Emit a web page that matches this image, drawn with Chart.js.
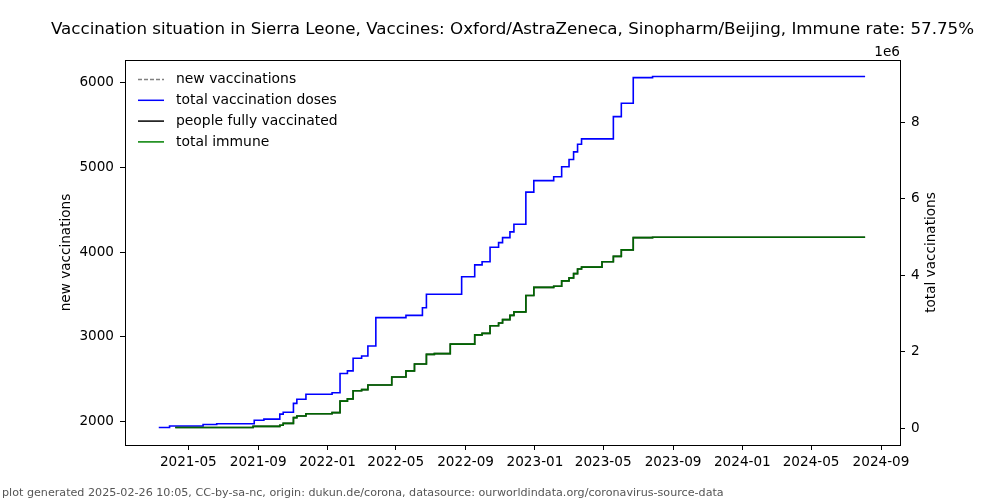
<!DOCTYPE html>
<html><head><meta charset="utf-8">
<script src="https://cdn.jsdelivr.net/npm/chart.js@4.4.1/dist/chart.umd.min.js"></script>
<style>html,body{margin:0;padding:0;background:#fff;}#wrap{width:1000px;height:500px;}</style>
</head><body><div id="wrap"><canvas id="c" width="1000" height="500"></canvas></div>
<script>
// ---- data ----
const chartTitle = 'Vaccination situation in Sierra Leone, Vaccines: Oxford/AstraZeneca, Sinopharm/Beijing, Immune rate: 57.75%';
const footerText = 'plot generated 2025-02-26 10:05, CC-by-sa-nc, origin: dukun.de/corona, datasource: ourworldindata.org/coronavirus-source-data';
const seriesLabels = ['new vaccinations', 'total vaccination doses', 'people fully vaccinated', 'total immune'];
const leftAxisTitle = 'new vaccinations';
const rightAxisTitle = 'total vaccinations';
const rightAxisOffsetLabel = '1e6';

const xTickLabels = ['2021-05','2021-09','2022-01','2022-05','2022-09','2023-01','2023-05','2023-09','2024-01','2024-05','2024-09'];
const leftTicks = [2000, 3000, 4000, 5000, 6000];
const rightTicks = [0, 2000000, 4000000, 6000000, 8000000];

const newVaccinationDates = [];
const newVaccinationValues = [];

const totalDosesDates = ['2021-03-10','2021-03-29','2021-05-27','2021-06-20','2021-08-25','2021-09-11','2021-10-09','2021-10-15','2021-11-02','2021-11-08','2021-11-24','2022-01-09','2022-01-23','2022-02-05','2022-02-15','2022-03-02','2022-03-13','2022-03-27','2022-05-19','2022-06-17','2022-06-24','2022-08-25','2022-09-17','2022-09-30','2022-10-14','2022-10-29','2022-11-05','2022-11-18','2022-11-25','2022-12-16','2022-12-30','2023-02-03','2023-02-17','2023-03-02','2023-03-10','2023-03-17','2023-03-24','2023-05-19','2023-06-02','2023-06-23','2023-07-27','2024-08-04'];
const totalDosesValues = [20000,60000,100000,120000,210000,240000,370000,420000,650000,760000,890000,930000,1430000,1500000,1830000,1890000,2150000,2890000,2950000,3150000,3500000,3960000,4270000,4350000,4730000,4850000,4980000,5130000,5330000,6170000,6470000,6570000,6830000,7020000,7220000,7420000,7560000,8140000,8490000,9160000,9190000,9190000];

const fullyVaccinatedDates = ['2021-04-08','2021-08-23','2021-10-09','2021-10-15','2021-11-02','2021-11-08','2021-11-24','2022-01-09','2022-01-23','2022-02-05','2022-02-15','2022-03-02','2022-03-13','2022-04-24','2022-05-19','2022-06-03','2022-06-24','2022-07-08','2022-08-05','2022-09-17','2022-09-30','2022-10-14','2022-10-29','2022-11-05','2022-11-18','2022-11-25','2022-12-16','2022-12-30','2023-02-03','2023-02-17','2023-03-02','2023-03-10','2023-03-17','2023-03-24','2023-04-29','2023-05-19','2023-06-02','2023-06-23','2023-07-27','2024-08-04'];
const fullyVaccinatedValues = [20000,50000,80000,130000,280000,320000,380000,410000,710000,770000,980000,1010000,1130000,1340000,1500000,1680000,1930000,1950000,2200000,2440000,2480000,2680000,2750000,2840000,2950000,3040000,3470000,3680000,3710000,3850000,3930000,4040000,4160000,4210000,4350000,4490000,4660000,4980000,4990000,4990000];

const totalImmuneDates = ['2021-04-08','2021-08-23','2021-10-09','2021-10-15','2021-11-02','2021-11-08','2021-11-24','2022-01-09','2022-01-23','2022-02-05','2022-02-15','2022-03-02','2022-03-13','2022-04-24','2022-05-19','2022-06-03','2022-06-24','2022-07-08','2022-08-05','2022-09-17','2022-09-30','2022-10-14','2022-10-29','2022-11-05','2022-11-18','2022-11-25','2022-12-16','2022-12-30','2023-02-03','2023-02-17','2023-03-02','2023-03-10','2023-03-17','2023-03-24','2023-04-29','2023-05-19','2023-06-02','2023-06-23','2023-07-27','2024-08-04'];
const totalImmuneValues = [20000,50000,80000,130000,280000,320000,380000,410000,710000,770000,980000,1010000,1130000,1340000,1500000,1680000,1930000,1950000,2200000,2440000,2480000,2680000,2750000,2840000,2950000,3040000,3470000,3680000,3710000,3850000,3930000,4040000,4160000,4210000,4350000,4490000,4660000,4980000,4990000,4990000];

// ---- helpers ----
const FONT = "'DejaVu Sans', sans-serif";
const toTime = s => Date.parse(s.length === 7 ? s + '-01T00:00:00Z' : s + 'T00:00:00Z');
const pts = (d, v) => d.map((s, i) => ({x: toTime(s), y: v[i]}));
const fmtMonth = t => { const d = new Date(t); return d.getUTCFullYear() + '-' + String(d.getUTCMonth() + 1).padStart(2, '0'); };

Chart.defaults.color = '#000';
Chart.defaults.font.family = FONT;
Chart.defaults.font.size = 13.6;

const textPlugin = {
  id: 'textPlugin',
  afterDraw(chart) {
    const ctx = chart.ctx, a = chart.chartArea;
    ctx.save();
    // top spine
    ctx.strokeStyle = '#000'; ctx.lineWidth = 1;
    ctx.beginPath(); ctx.moveTo(Math.round(a.left) + 0.5, Math.round(a.top) + 0.5); ctx.lineTo(Math.round(a.right) + 0.5, Math.round(a.top) + 0.5); ctx.stroke();
    // title
    ctx.fillStyle = '#000';
    ctx.font = "16.7px " + FONT; ctx.textAlign = 'center'; ctx.textBaseline = 'middle';
    ctx.fillText(chartTitle, (a.left + a.right) / 2, 30);
    // axis titles
    ctx.font = "13.6px " + FONT;
    ctx.save(); ctx.translate(66, (a.top + a.bottom) / 2); ctx.rotate(-Math.PI / 2); ctx.fillText(leftAxisTitle, 0, 0); ctx.restore();
    ctx.save(); ctx.translate(931, (a.top + a.bottom) / 2); ctx.rotate(-Math.PI / 2); ctx.fillText(rightAxisTitle, 0, 0); ctx.restore();
    // offset label
    ctx.textAlign = 'right'; ctx.textBaseline = 'alphabetic';
    ctx.fillText(rightAxisOffsetLabel, a.right, 56);
    // legend
    const ds = chart.data.datasets;
    ctx.font = "13.9px " + FONT;
    ctx.textAlign = 'left'; ctx.textBaseline = 'middle';
    ds.forEach((d, i) => {
      const y = 79.5 + i * 20.8;
      ctx.save();
      ctx.strokeStyle = d.legendColor || d.borderColor; ctx.lineWidth = 1.5;
      ctx.setLineDash(d.borderDash || []);
      ctx.beginPath(); ctx.moveTo(138, y); ctx.lineTo(164, y); ctx.stroke();
      ctx.restore();
      ctx.fillStyle = '#000';
      ctx.fillText(d.label, 176, y);
    });
    // footer
    ctx.font = "11.15px " + FONT; ctx.fillStyle = '#555'; ctx.textAlign = 'left'; ctx.textBaseline = 'middle';
    ctx.fillText(footerText, 2, 493.5);
    ctx.restore();
  }
};

const axisCommon = {
  grid: { drawOnChartArea: false, drawTicks: true, tickLength: 5, tickColor: '#000', tickWidth: 1 },
  border: { display: true, color: '#000', width: 1 },
};

new Chart(document.getElementById('c'), {
  type: 'line',
  data: {
    datasets: [
      { label: seriesLabels[0], data: pts(newVaccinationDates, newVaccinationValues), yAxisID: 'y', borderColor: '#808080', borderDash: [4, 2], borderWidth: 1.5, pointRadius: 0, order: 3 },
      { label: seriesLabels[1], data: pts(totalDosesDates, totalDosesValues), yAxisID: 'y1', borderColor: '#0000ff', borderWidth: 1.6, pointRadius: 0, stepped: true, order: 2 },
      { label: seriesLabels[2], data: pts(fullyVaccinatedDates, fullyVaccinatedValues), yAxisID: 'y1', borderColor: '#000000', borderWidth: 1.6, pointRadius: 0, stepped: true, order: 1 },
      { label: seriesLabels[3], data: pts(totalImmuneDates, totalImmuneValues), yAxisID: 'y1', borderColor: 'rgba(0,128,0,0.8)', legendColor: '#008000', borderWidth: 1.6, pointRadius: 0, stepped: true, order: 0 },
    ]
  },
  options: {
    responsive: false, animation: false,
    layout: { padding: { top: 60, left: 0, right: 0, bottom: 0 } },
    plugins: { legend: { display: false }, tooltip: { enabled: false }, title: { display: false } },
    scales: {
      x: Object.assign({}, axisCommon, {
        type: 'linear', position: 'bottom',
        min: Date.UTC(2021, 0, 9, 14), max: Date.UTC(2024, 9, 4, 10),
        afterBuildTicks: s => { s.ticks = xTickLabels.map(t => ({ value: toTime(t) })); },
        afterFit: s => { s.height = 55; },
        ticks: { autoSkip: false, maxRotation: 0, padding: 4, color: '#000', callback: v => fmtMonth(v) }
      }),
      y: Object.assign({}, axisCommon, {
        type: 'linear', position: 'left', min: 1721, max: 6268,
        afterBuildTicks: s => { s.ticks = leftTicks.map(v => ({ value: v })); },
        afterFit: s => { s.width = 125; },
        ticks: { padding: 6, color: '#000', callback: v => String(v) }
      }),
      y1: Object.assign({}, axisCommon, {
        type: 'linear', position: 'right', min: -436000, max: 9620000,
        afterBuildTicks: s => { s.ticks = rightTicks.map(v => ({ value: v })); },
        afterFit: s => { s.width = 100; },
        ticks: { padding: 6, color: '#000', callback: v => String(Math.round(v / 1e6)) }
      })
    }
  },
  plugins: [textPlugin]
});
</script></body></html>
